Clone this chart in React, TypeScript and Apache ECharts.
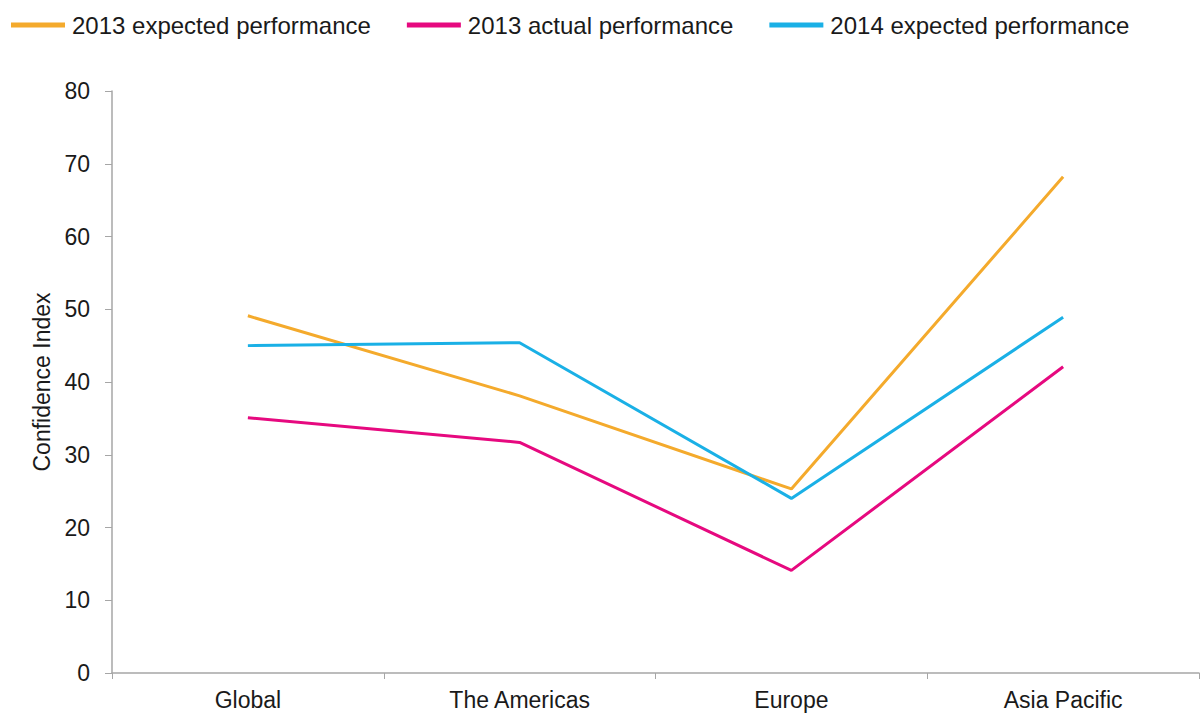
import React, { useEffect, useRef } from "react";
import * as echarts from "echarts";

const categories = ["Global", "The Americas", "Europe", "Asia Pacific"];
const expected2013 = [49.1, 38.1, 25.3, 68.2];
const actual2013 = [35.1, 31.7, 14.1, 42.1];
const expected2014 = [45.0, 45.4, 24.0, 48.9];
const yTicks = { min: 0, max: 80, interval: 10 };

const seriesNames = ["2013 expected performance", "2013 actual performance", "2014 expected performance"];
const colors = ["#F4AA2C", "#E6097F", "#1AB0E6"];

export default function App() {
  const ref = useRef<HTMLDivElement>(null);
  useEffect(() => {
    if (!ref.current) return;
    const chart = echarts.init(ref.current, undefined, { renderer: "svg" });
    const font = "Liberation Sans, Arial, sans-serif";
    const data = [expected2013, actual2013, expected2014];
    chart.setOption({
      animation: false,
      backgroundColor: "#ffffff",
      color: colors,
      legend: {
        top: 8,
        left: 6,
        itemWidth: 54,
        itemHeight: 5,
        itemGap: 36,
        icon: "rect",
        textStyle: { fontFamily: font, fontSize: 24, color: "#1a1a1a", padding: [0, 0, 0, 2] },
        data: seriesNames,
      },
      grid: { left: 112, right: 4, top: 91, bottom: 42, containLabel: false },
      xAxis: {
        type: "category",
        data: categories,
        boundaryGap: true,
        axisLine: { lineStyle: { color: "#A6A6A6", width: 1.5 } },
        axisTick: { show: true, length: 6, lineStyle: { color: "#A6A6A6" } },
        axisLabel: { fontFamily: font, fontSize: 23, color: "#1a1a1a", margin: 15 },
        splitLine: { show: false },
      },
      yAxis: {
        type: "value",
        min: yTicks.min,
        max: yTicks.max,
        interval: yTicks.interval,
        name: "Confidence Index",
        nameLocation: "middle",
        nameGap: 57,
        nameTextStyle: { fontFamily: font, fontSize: 23, color: "#1a1a1a" },
        axisLine: { show: true, lineStyle: { color: "#A6A6A6", width: 1.5 } },
        axisTick: { show: true, length: 7, lineStyle: { color: "#A6A6A6" } },
        axisLabel: { fontFamily: font, fontSize: 23, color: "#1a1a1a", margin: 22 },
        splitLine: { show: false },
      },
      series: seriesNames.map((name, i) => ({
        name,
        type: "line",
        data: data[i],
        symbol: "none",
        lineStyle: { width: 3, color: colors[i] },
        itemStyle: { color: colors[i] },
      })),
    });
    return () => chart.dispose();
  }, []);
  return <div ref={ref} style={{ width: 1203, height: 715, position: "absolute", left: 0, top: 0 }} />;
}
